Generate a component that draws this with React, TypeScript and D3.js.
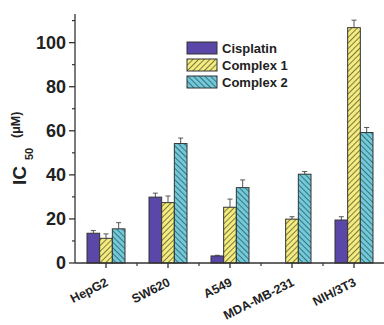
import * as d3 from 'd3';
import React from 'react';

const cells = ["HepG2", "SW620", "A549", "MDA-MB-231", "NIH/3T3"];
const series = ["Cisplatin", "Complex 1", "Complex 2"];
const cisplatin = [13.5, 29.9, 3.2, null, 19.5];
const cisplatinErr = [1.2, 1.8, 0.3, null, 1.5];
const complex1 = [11.2, 27.4, 25.3, 19.9, 106.8];
const complex1Err = [2.0, 3.0, 3.7, 1.1, 3.4];
const complex2 = [15.5, 54.2, 34.2, 40.3, 59.2];
const complex2Err = [2.8, 2.5, 3.5, 1.2, 2.3];
const yTicks = [0, 20, 40, 60, 80, 100];

const values = [cisplatin, complex1, complex2];
const errors = [cisplatinErr, complex1Err, complex2Err];
const fills = ["#5B47A7", "url(#hatchYellow)", "url(#hatchCyan)"];

const W = 384, H = 325;
const FONT = "'Liberation Sans', Arial, sans-serif";

export default function App() {
    const x0 = d3.scaleBand().domain(cells).range([75, 385]);
    const x1 = d3.scaleBand().domain(series).range([12, 50]);
    const y = d3.scaleLinear().domain([0, 113]).range([263, 14]);
    const minorY = d3.range(10, 113, 20);
    const edge = "#333";

    return (
        <svg width={W} height={H} style={{ position: "absolute", left: 0, top: 0, background: "#fff" }}
            fontFamily={FONT}>
            <defs>
                <pattern id="hatchYellow" patternUnits="userSpaceOnUse" width="4" height="4"
                    patternTransform="rotate(45)">
                    <rect width="4" height="4" fill="#F4EC7C" />
                    <line x1="0" y1="0" x2="0" y2="4" stroke="#3a3a2a" strokeWidth="1.3" />
                </pattern>
                <pattern id="hatchCyan" patternUnits="userSpaceOnUse" width="4" height="4"
                    patternTransform="rotate(-45)">
                    <rect width="4" height="4" fill="#70CADA" />
                    <line x1="0" y1="0" x2="0" y2="4" stroke="#24404a" strokeWidth="1.3" />
                </pattern>
            </defs>

            {/* bars */}
            {series.map((s, si) => cells.map((c, ci) => {
                const v = values[si][ci];
                if (v == null) return null;
                const bx = x0(c)! + x1(s)!;
                const bw = x1.bandwidth();
                const e = errors[si][ci] ?? 0;
                const cx = bx + bw / 2;
                return (
                    <g key={s + c}>
                        <line x1={cx} x2={cx} y1={y(v)} y2={y(v + e)} stroke="#555" strokeWidth="1" />
                        <line x1={cx - 2.5} x2={cx + 2.5} y1={y(v + e)} y2={y(v + e)} stroke="#555" strokeWidth="1" />
                        <rect x={bx} y={y(v)} width={bw} height={y(0) - y(v)} fill={fills[si]}
                            stroke={edge} strokeWidth="1" />
                    </g>
                );
            }))}

            {/* y axis */}
            <line x1={75} x2={75} y1={y(0)} y2={y(113)} stroke={edge} strokeWidth="1.3" />
            {yTicks.map(t => (
                <g key={t}>
                    <line x1={69} x2={75} y1={y(t)} y2={y(t)} stroke={edge} strokeWidth="1.3" />
                    <text x={66} y={y(t)} dy="0.36em" textAnchor="end" fontSize="18" fontWeight="bold"
                        fill="#222">{t}</text>
                </g>
            ))}
            {minorY.map(t => (
                <line key={t} x1={72} x2={75} y1={y(t)} y2={y(t)} stroke={edge} strokeWidth="1.2" />
            ))}

            {/* x axis */}
            <line x1={75} x2={384} y1={y(0)} y2={y(0)} stroke={edge} strokeWidth="1.3" />
            {cells.map(c => {
                const cx = x0(c)! + x0.bandwidth() / 2;
                return (
                    <g key={c}>
                        <line x1={cx} x2={cx} y1={y(0)} y2={y(0) + 5} stroke={edge} strokeWidth="1.3" />
                        <text transform={`translate(${cx + 3},${y(0) + 22}) rotate(-27)`} textAnchor="end"
                            fontSize="12.5" fontWeight="bold" fill="#222">{c}</text>
                    </g>
                );
            })}
            {cells.slice(1).map(c => (
                <line key={c} x1={x0(c)!} x2={x0(c)!} y1={y(0)} y2={y(0) + 3} stroke={edge} strokeWidth="1.2" />
            ))}

            {/* y label */}
            <g transform="translate(26,185) rotate(-90)" fill="#222" fontWeight="bold">
                <text x={0} y={0} fontSize="19">IC</text>
                <text x={25} y={7} fontSize="11">50</text>
                <text x={47} y={-6} fontSize="12.5">(μM)</text>
            </g>

            {/* legend */}
            {series.map((s, i) => (
                <g key={s} transform={`translate(187,${42 + i * 17})`}>
                    <rect x={0} y={0} width={30} height={12} fill={fills[i]} stroke={edge} strokeWidth="1" />
                    <text x={35} y={11} fontSize="13" fontWeight="bold" fill="#222">{s}</text>
                </g>
            ))}
        </svg>
    );
}
